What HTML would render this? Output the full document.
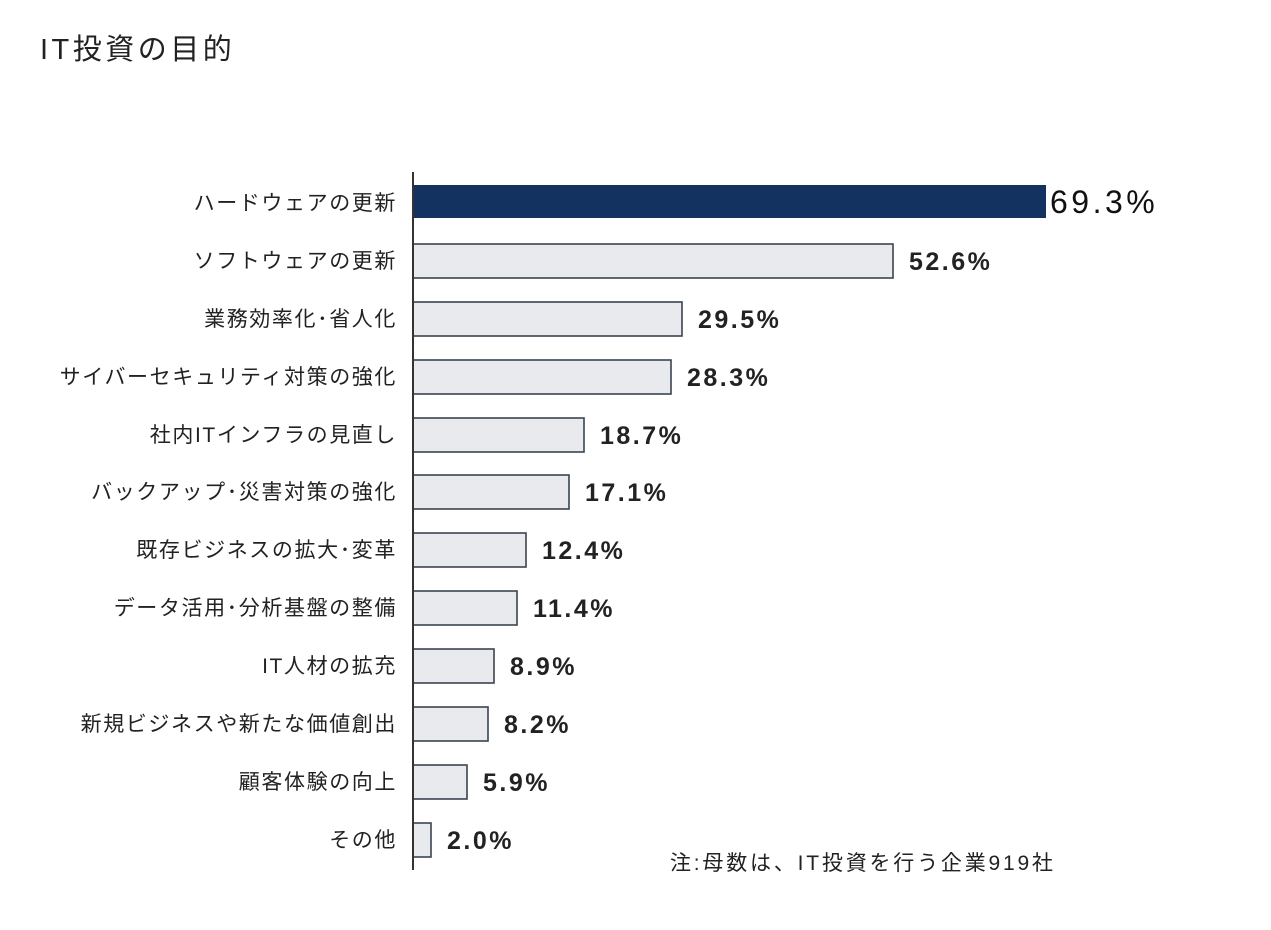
<!DOCTYPE html>
<html><head><meta charset="utf-8"><style>
body{margin:0;background:#fff;}
svg{display:block;}
text{font-family:"Liberation Sans","Noto Sans CJK JP",sans-serif;}
</style></head><body>
<svg width="1271" height="930" viewBox="0 0 1271 930" xmlns="http://www.w3.org/2000/svg">
<text x="40" y="59" font-size="29" letter-spacing="3.5" fill="#222">IT投資の目的</text>
<rect x="413" y="185" width="633" height="33" fill="#14325f"/>
<text x="1050" y="213" font-size="32" letter-spacing="3.5" fill="#111" font-weight="500">69.3%</text>
<g fill="#e8eaee" stroke="#3a4450" stroke-width="1.6">
<rect x="413" y="244" width="480" height="34"/>
<rect x="413" y="302" width="269" height="34"/>
<rect x="413" y="360" width="258" height="34"/>
<rect x="413" y="418" width="171" height="34"/>
<rect x="413" y="475" width="156" height="34"/>
<rect x="413" y="533" width="113" height="34"/>
<rect x="413" y="591" width="104" height="34"/>
<rect x="413" y="649" width="81" height="34"/>
<rect x="413" y="707" width="75" height="34"/>
<rect x="413" y="765" width="54" height="34"/>
<rect x="413" y="823" width="18" height="34"/>
</g>
<line x1="413" y1="172" x2="413" y2="870" stroke="#333" stroke-width="2"/>
<g font-size="25" fill="#222" font-weight="bold" letter-spacing="2.5">
<text x="909" y="270">52.6%</text>
<text x="698" y="328">29.5%</text>
<text x="687" y="386">28.3%</text>
<text x="600" y="444">18.7%</text>
<text x="585" y="501">17.1%</text>
<text x="542" y="559">12.4%</text>
<text x="533" y="617">11.4%</text>
<text x="510" y="675">8.9%</text>
<text x="504" y="733">8.2%</text>
<text x="483" y="791">5.9%</text>
<text x="447" y="849">2.0%</text>
</g>
<g font-size="21" fill="#222" text-anchor="end" letter-spacing="1.6">
<text x="397" y="210">ハードウェアの更新</text>
<text x="397" y="268">ソフトウェアの更新</text>
<text x="397" y="326">業務効率化･省人化</text>
<text x="397" y="384">サイバーセキュリティ対策の強化</text>
<text x="397" y="442">社内ITインフラの見直し</text>
<text x="397" y="499">バックアップ･災害対策の強化</text>
<text x="397" y="557">既存ビジネスの拡大･変革</text>
<text x="397" y="615">データ活用･分析基盤の整備</text>
<text x="397" y="673">IT人材の拡充</text>
<text x="397" y="731">新規ビジネスや新たな価値創出</text>
<text x="397" y="789">顧客体験の向上</text>
<text x="397" y="847">その他</text>
</g>
<text x="670" y="870" font-size="21" letter-spacing="2.8" fill="#222">注:母数は、IT投資を行う企業919社</text>
</svg>
</body></html>
